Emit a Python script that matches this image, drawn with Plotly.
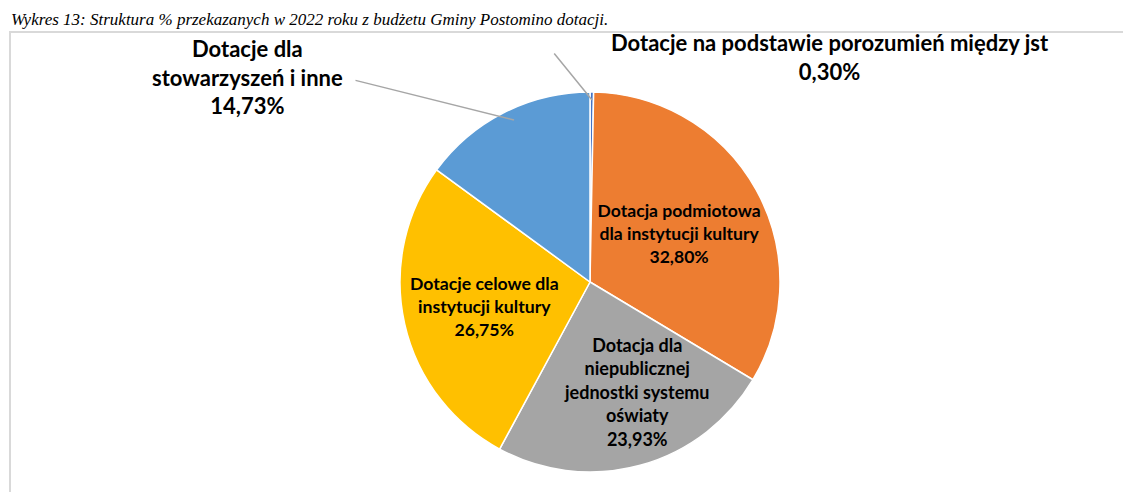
import plotly.graph_objects as go

# ---- data ----
categories = [
    "Dotacje na podstawie porozumień między jst",
    "Dotacja podmiotowa<br>dla instytucji kultury",
    "Dotacja dla<br>niepublicznej<br>jednostki systemu<br>oświaty",
    "Dotacje celowe dla<br>instytucji kultury",
    "Dotacje dla<br>stowarzyszeń i inne",
]
shares = [0.30, 32.80, 23.93, 26.75, 14.73]
colors = ["#4472C4", "#ED7D31", "#A5A5A5", "#FFC000", "#5B9BD5"]
title_text = "Wykres 13: Struktura % przekazanych w 2022 roku z budżetu Gminy Postomino dotacji."

W, H = 1131, 492
OFF = 8  # page body margin of the browser
ML, MR, MT, MB = 83, 50, 84, 28
PW, PH = W - ML - MR, H - MT - MB


def px(x):
    """screen pixel x -> paper x"""
    return (x - OFF - ML) / PW


def py(y):
    """screen pixel y -> paper y"""
    return (H - MB - (y - OFF)) / PH


def pct(v):
    return f"{v:.2f}%".replace(".", ",")


LABEL_FONT = dict(family="Lato", size=22, color="black", weight="bold")

fig = go.Figure(go.Pie(
    labels=categories,
    values=shares,
    sort=False,
    direction="clockwise",
    rotation=0,
    marker=dict(colors=colors, line=dict(color="white", width=1.5)),
    texttemplate=["", "%{label}<br>%{value:.2f}%", "",
                  "%{label}<br>%{value:.2f}%", ""],
    textposition="inside",
    insidetextorientation="horizontal",
    textfont=dict(family="Lato", size=20, color="black", weight="bold"),
    hoverinfo="label+percent",
    showlegend=False,
))

# label of the grey slice (kept at readable size)
fig.add_annotation(
    x=px(636), y=py(392), xref="paper", yref="paper", showarrow=False,
    xanchor="center", yanchor="middle",
    text=f"{categories[2]}<br>{pct(shares[2])}",
    font=dict(family="Lato", size=18, color="black", weight="bold"),
)

# outside labels
fig.add_annotation(
    x=px(830), y=py(57), xref="paper", yref="paper", showarrow=False,
    xanchor="center", yanchor="middle",
    text=f"{categories[0]}<br>{pct(shares[0])}", font=LABEL_FONT,
)
fig.add_annotation(
    x=px(247), y=py(77), xref="paper", yref="paper", showarrow=False,
    xanchor="center", yanchor="middle",
    text=f"{categories[4]}<br>{pct(shares[4])}", font=LABEL_FONT,
)
# leader lines
fig.add_annotation(
    x=px(592), y=py(100), xref="paper", yref="paper", text="",
    showarrow=True, arrowhead=0, arrowcolor="#A6A6A6", arrowwidth=1.5,
    ax=-39, ay=-48,
)
fig.add_annotation(
    x=px(514), y=py(120), xref="paper", yref="paper", text="",
    showarrow=True, arrowhead=0, arrowcolor="#A6A6A6", arrowwidth=1.5,
    ax=-160, ay=-40,
)

# caption at top
fig.add_annotation(
    x=px(9), y=py(8), xref="paper", yref="paper",
    xanchor="left", yanchor="top", showarrow=False,
    text=f"<i>{title_text}</i>",
    font=dict(family="Liberation Serif", size=17, color="black"),
)

# chart frame
fig.add_shape(type="rect", xref="paper", yref="paper",
              x0=px(10), x1=px(1150), y0=py(520), y1=py(32),
              line=dict(color="#D9D9D9", width=2), fillcolor="rgba(0,0,0,0)", layer="below")

fig.update_layout(
    width=W, height=H,
    margin=dict(l=ML, r=MR, t=MT, b=MB),
    paper_bgcolor="white", plot_bgcolor="white",
    separators=",.",
)

fig.write_html("out.html")
